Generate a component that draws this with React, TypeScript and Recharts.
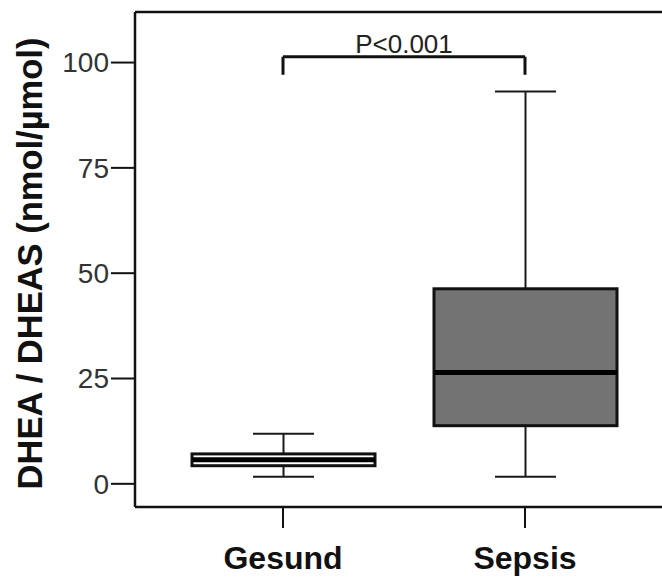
import React from 'react';
import { ComposedChart, Bar, XAxis, YAxis, ReferenceLine } from 'recharts';

const categories = ['Gesund', 'Sepsis'];
const minValues = [1.7, 1.7];
const q1Values = [4.3, 13.8];
const medianValues = [5.7, 26.4];
const q3Values = [7.1, 46.3];
const maxValues = [11.9, 93.1];
const boxFills = ['#ffffff', '#737373'];
const yTicks = [0, 25, 50, 75, 100];
const yDomain = [-5.5, 112];
const yTitle = 'DHEA / DHEAS (nmol/µmol)';
const pLabel = 'P<0.001';
const bracketTop = 101.4;
const bracketFoot = 97.1;

const data = categories.map((name, i) => ({
  name,
  min: minValues[i],
  q1: q1Values[i],
  median: medianValues[i],
  q3: q3Values[i],
  max: maxValues[i],
  fill: boxFills[i],
}));

const FONT = '"Liberation Sans", Arial, Helvetica, sans-serif';

const BoxShape = (props: any) => {
  const { x, y, width, height, payload } = props;
  const p = payload;
  const k = height / (p.max - p.min);
  const py = (v: number) => y + (p.max - v) * k;
  const cx = x + width / 2;
  const cap = width / 3;
  return (
    <g>
      <line x1={cx} x2={cx} y1={py(p.max)} y2={py(p.q3)} stroke="#1a1a1a" strokeWidth={2} />
      <line x1={cx} x2={cx} y1={py(p.q1)} y2={py(p.min)} stroke="#1a1a1a" strokeWidth={2} />
      <line x1={cx - cap / 2} x2={cx + cap / 2} y1={py(p.max)} y2={py(p.max)} stroke="#1a1a1a" strokeWidth={2} />
      <line x1={cx - cap / 2} x2={cx + cap / 2} y1={py(p.min)} y2={py(p.min)} stroke="#1a1a1a" strokeWidth={2} />
      <rect x={x} y={py(p.q3)} width={width} height={py(p.q1) - py(p.q3)} fill={p.fill} stroke="#111" strokeWidth={3} />
      <line x1={x} x2={x + width} y1={py(p.median)} y2={py(p.median)} stroke="#000" strokeWidth={5} />
    </g>
  );
};

const YTitle = (props: any) => {
  const vb = props.viewBox;
  const cy = vb.y + vb.height / 2 + 4;
  return (
    <text x={30} y={cy} transform={`rotate(-90, 30, ${cy})`} textAnchor="middle" dominantBaseline="central"
      fontFamily={FONT} fontWeight="bold" fontSize={34.5} fill="#111">{yTitle}</text>
  );
};

export default function App() {
  return (
    <div style={{ position: 'absolute', left: 0, top: 0, background: '#fff' }}>
      <ComposedChart width={662} height={577} data={data} margin={{ top: 12, right: 0, left: 0, bottom: 0 }}>
        <XAxis dataKey="name" height={70} padding={{ left: 27, right: 16 }}
          axisLine={{ stroke: '#111', strokeWidth: 2.5 }}
          tickLine={{ stroke: '#111', strokeWidth: 2 }} tickSize={21} tickMargin={18}
          tick={{ fontFamily: FONT, fontSize: 32, fontWeight: 'bold', fill: '#111' }} />
        <YAxis type="number" domain={yDomain} ticks={yTicks} width={135} allowDataOverflow
          axisLine={{ stroke: '#111', strokeWidth: 2.5 }}
          tickLine={{ stroke: '#111', strokeWidth: 2 }} tickSize={24} tickMargin={2}
          tick={{ fontFamily: FONT, fontSize: 28, fill: '#333' }}
          label={<YTitle />} />
        <ReferenceLine y={yDomain[1]} stroke="#111" strokeWidth={2.5} ifOverflow="visible" />
        <Bar dataKey={(d: any) => [d.min, d.max]} barSize={183} shape={<BoxShape />} isAnimationActive={false} />
        <ReferenceLine segment={[{ x: categories[0], y: bracketTop }, { x: categories[1], y: bracketTop }]}
          stroke="#111" strokeWidth={3} ifOverflow="visible"
          label={{ value: pLabel, position: 'top', offset: 4, fontFamily: FONT, fontSize: 26, fill: '#222' }} />
        <ReferenceLine segment={[{ x: categories[0], y: bracketTop }, { x: categories[0], y: bracketFoot }]}
          stroke="#111" strokeWidth={3} ifOverflow="visible" />
        <ReferenceLine segment={[{ x: categories[1], y: bracketTop }, { x: categories[1], y: bracketFoot }]}
          stroke="#111" strokeWidth={3} ifOverflow="visible" />
      </ComposedChart>
    </div>
  );
}
